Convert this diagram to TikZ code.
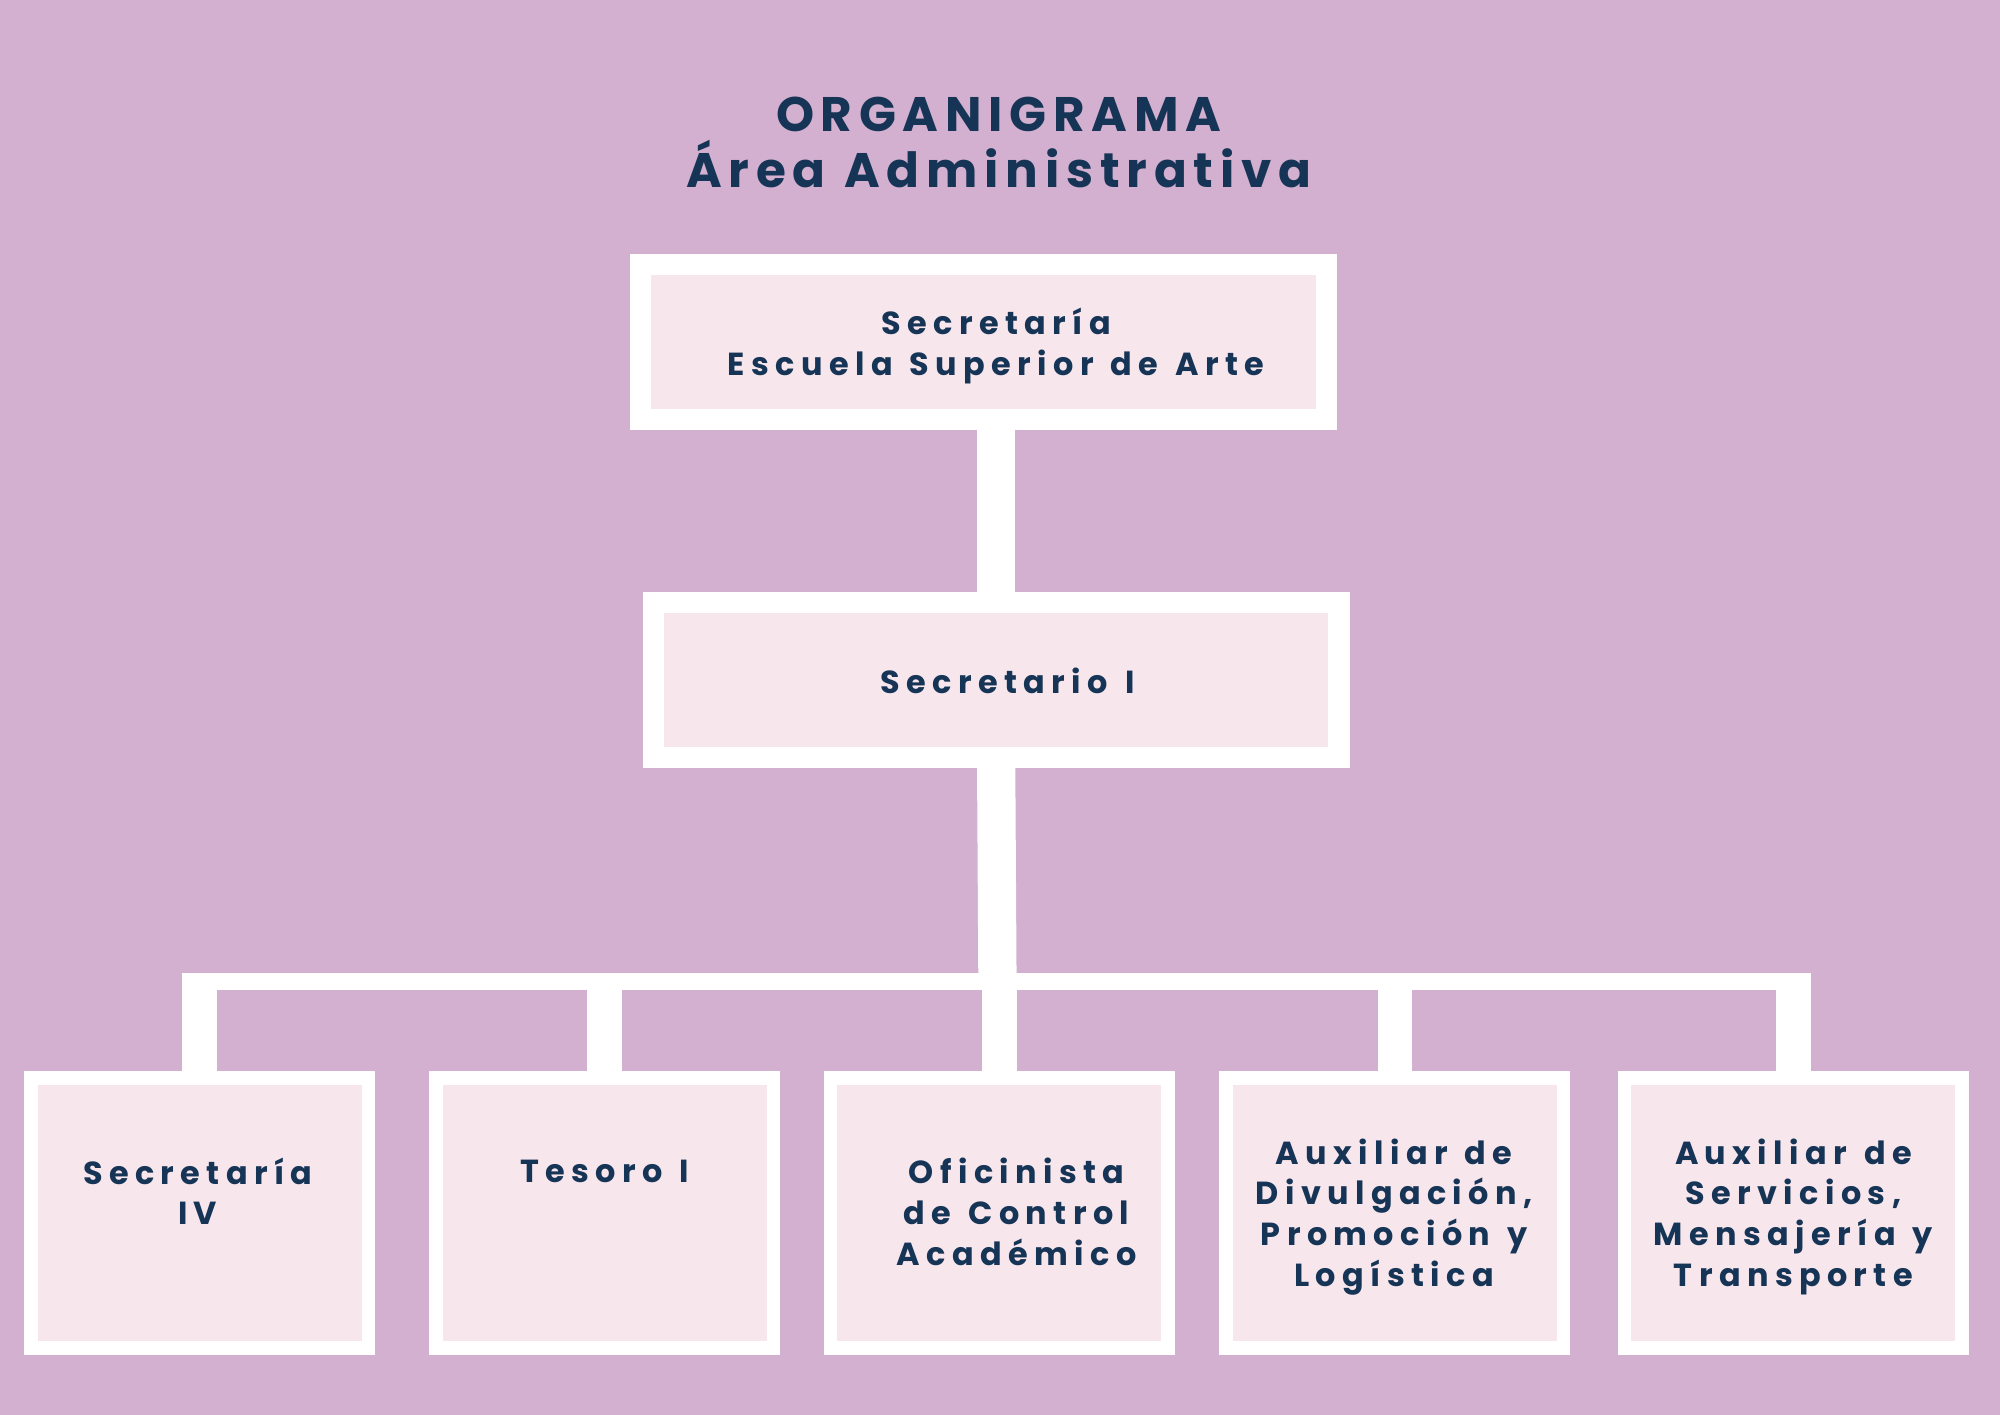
\documentclass[tikz,border=0pt]{standalone}
\usepackage{fontspec}
\usepackage{xcolor}
\usetikzlibrary{positioning}
\newfontfamily\orgfont[LetterSpace=20,WordSpace=1.3]{Poppins}
\newfontfamily\titlefont[LetterSpace=14,WordSpace=1.1]{Poppins}
\definecolor{bgcol}{HTML}{D3B0CF}
\definecolor{boxcol}{HTML}{F7E6EC}
\definecolor{inkcol}{HTML}{163556}

\begin{document}
\begin{tikzpicture}
	[x=0.5pt,y=-0.5pt,
	every node/.style={text=inkcol,align=center},
	bigbox/.style={rectangle,draw=white,fill=boxcol,line width=8.25pt,
		minimum width=268.75pt,minimum height=60.75pt,inner sep=0pt},
	smallbox/.style={rectangle,draw=white,fill=boxcol,line width=5.25pt,
		minimum width=132.25pt,minimum height=105.75pt,inner sep=0pt},
	trunk/.style={draw=white,line width=15pt},
	busline/.style={draw=white,line width=7pt},
	drop/.style={draw=white,line width=13.5pt},
	lbl/.style={font=\orgfont\bfseries\fontsize{12.5}{16}\selectfont}]
	\fill[bgcol] (0,0) rectangle (1568,1109);
	\node[font=\titlefont\bfseries\fontsize{19}{22}\selectfont] (title) at (783,112) {ORGANIGRAMA\\Área Administrativa};
	\node[bigbox] (top) at (771,268) {};
	\node[bigbox] (mid) at (781,533) {};
	\node[lbl] (toptext) at (781,271) {Secretaría\\Escuela Superior de Arte};
	\node[lbl] (midtext) at (790,534) {Secretario I};
	\node[smallbox] (b1) at (156.5,951) {};
	\node[smallbox] (b2) at (474,951) {};
	\node[smallbox] (b3) at (783.5,951) {};
	\node[smallbox] (b4) at (1093.5,951) {};
	\node[smallbox] (b5) at (1406,951) {};
	\coordinate (bus) at (782,769.5);
	\draw[trunk] (mid.north |- top.south) -- (mid.north);
	\draw[trunk] (mid.south) -- (bus);
	\draw[busline,shorten <=-6.75pt,shorten >=-6.75pt] (b1.north |- bus) -- (b5.north |- bus);
	\foreach \b in {b1,b2,b3,b4,b5}
		\draw[drop] (\b.north) -- (\b.north |- bus);
	\node[lbl] (t1) at (155,934) {Secretaría\\IV};
	\node[lbl] (t2) at (474,918) {Tesoro I};
	\node[lbl] (t3) at (797,950) {Oficinista\\de Control\\Académico};
	\node[lbl] (t4) at (1093,954) {Auxiliar de\\Divulgación,\\Promoción y\\Logística};
	\node[lbl] (t5) at (1406,954) {Auxiliar de\\Servicios,\\Mensajería y\\Transporte};
\end{tikzpicture}
\end{document}
